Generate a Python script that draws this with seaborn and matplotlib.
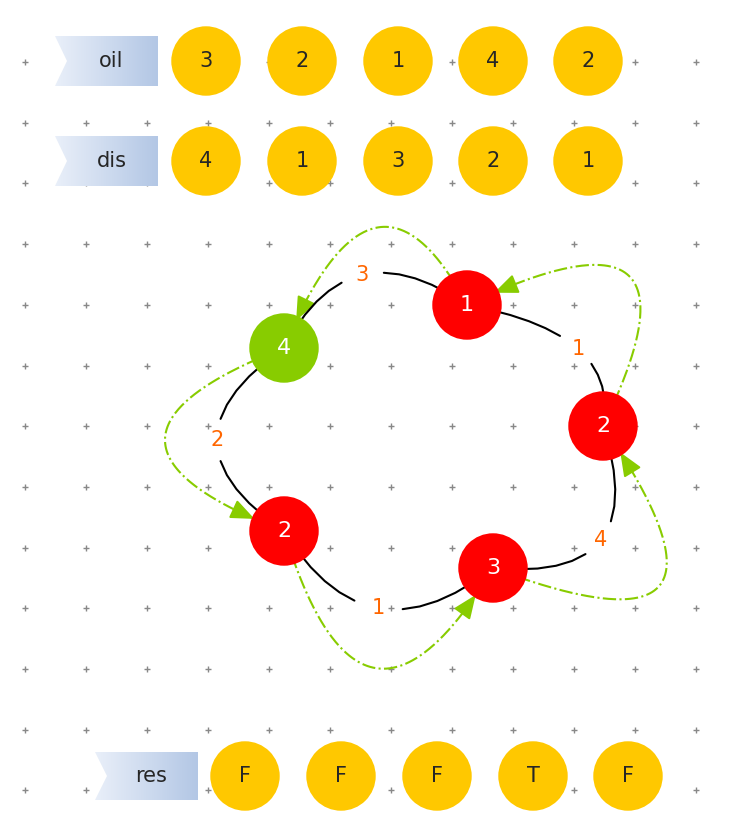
import numpy as np
import pandas as pd
import matplotlib
matplotlib.use("Agg")
import matplotlib.pyplot as plt
import seaborn as sns
from matplotlib.patches import Polygon, Circle

sns.set_theme(style="white")
plt.rcParams['font.family'] = ['DejaVu Sans']

oil = [3, 2, 1, 4, 2]
dis = [4, 1, 3, 2, 1]
res = ["F", "F", "F", "T", "F"]
node_vals = [1, 2, 3, 2, 4]
node_colors = ["#ff0000", "#ff0000", "#ff0000", "#ff0000", "#88cc00"]
edge_vals = [1, 4, 1, 2, 3]  # edge i goes from node i to node i+1 (clockwise)

W, H = 740, 834
fig = plt.figure(figsize=(W/100, H/100), dpi=100)
ax = fig.add_axes([0, 0, 1, 1])
ax.set_xlim(0, W); ax.set_ylim(H, 0); ax.axis("off")

# grid of crosses
gx, gy = np.meshgrid(25 + 61*np.arange(12), 62 + 60.7*np.arange(13))
grid = pd.DataFrame({"x": gx.ravel(), "y": gy.ravel()})
sns.scatterplot(data=grid, x="x", y="y", marker="+", s=18, color="#888888", linewidth=1, ax=ax, legend=False, zorder=0)

def tag(x0, y0, w, h, text):
    poly = Polygon([[x0, y0], [x0+w, y0], [x0+w, y0+h], [x0, y0+h], [x0+12, y0+h/2]], closed=True, facecolor="none", edgecolor="none")
    ax.add_patch(poly)
    grad = np.linspace(0, 1, 100).reshape(1, -1)
    cmap = matplotlib.colors.LinearSegmentedColormap.from_list("t", ["#e9eff9", "#b3c7e5"])
    im = ax.imshow(grad, extent=[x0, x0+w, y0+h, y0], cmap=cmap, aspect="auto", zorder=1)
    im.set_clip_path(poly)
    ax.text(x0+w/2+5, y0+h/2, text, ha="center", va="center", fontsize=15, zorder=2)

def row(xs, y, vals):
    df = pd.DataFrame({"x": xs, "y": [y]*len(xs)})
    sns.scatterplot(data=df, x="x", y="y", s=2500, color="#ffc800", edgecolor="none", ax=ax, legend=False, zorder=2)
    for x, v in zip(xs, vals):
        ax.text(x, y, str(v), ha="center", va="center", fontsize=15, zorder=3)

tag(55, 36, 103, 50, "oil"); row([206, 302, 398, 493, 588], 61, oil)
tag(55, 136, 103, 50, "dis"); row([206, 302, 398, 493, 588], 161, dis)
tag(95, 752, 103, 48, "res"); row([245, 341, 437, 533, 628], 776, res)

nodes = np.array([[467, 305], [603, 426], [493, 568], [284, 531], [284, 348]], float)
labels = np.array([[578, 349], [601, 540], [378, 608], [217, 440], [362, 275]], float)
R = 25

def quad(P0, C, P2, n=40):
    t = np.linspace(0, 1, n)[:, None]
    return (1-t)**2*P0 + 2*(1-t)*t*C + t**2*P2

for i in range(5):
    P0, P2, L = nodes[i], nodes[(i+1) % 5], labels[i]
    C = 2*L - (P0+P2)/2
    pts = quad(P0, C, P2, 14)
    mask = (np.hypot(*(pts-L).T) > 14)
    seg = pts.copy(); seg[~mask] = np.nan
    ax.plot(seg[:, 0], seg[:, 1], color="black", lw=1.5, zorder=3)
    ax.text(L[0], L[1], str(edge_vals[i]), color="#ff6600", fontsize=15, ha="center", va="center", zorder=4)

# green dash-dot arrows: (from, to, via)
garrows = [(0, 4, (375, 228)), (1, 0, (628, 275)), (2, 1, (660, 585)), (3, 2, (375, 668)), (4, 3, (165, 440))]
for a, b, v in garrows:
    P0, P2, V = nodes[a], nodes[b], np.array(v, float)
    C = 2*V - (P0+P2)/2
    pts = quad(P0, C, P2, 200)
    keep = (np.hypot(*(pts-P0).T) > R) & (np.hypot(*(pts-P2).T) > R+2)
    pts = pts[keep]
    ax.plot(pts[:-5, 0], pts[:-5, 1], color="#88cc00", lw=1.5, ls="-.", zorder=2)
    ax.annotate("", xy=pts[-1], xytext=pts[-12], arrowprops=dict(arrowstyle="-|>,head_length=1.2,head_width=0.5", color="#88cc00", lw=1.5), zorder=2)

nd = pd.DataFrame({"x": nodes[:, 0], "y": nodes[:, 1], "c": node_colors})
sns.scatterplot(data=nd, x="x", y="y", s=2500, hue="c", palette={c: c for c in set(node_colors)}, edgecolor="none", ax=ax, legend=False, zorder=5)
for (x, y), v in zip(nodes, node_vals):
    ax.text(x, y, str(v), color="white", fontsize=16, ha="center", va="center", zorder=6)

ax.set_xlim(0, W); ax.set_ylim(H, 0)
fig.savefig("out.png", dpi=100)
